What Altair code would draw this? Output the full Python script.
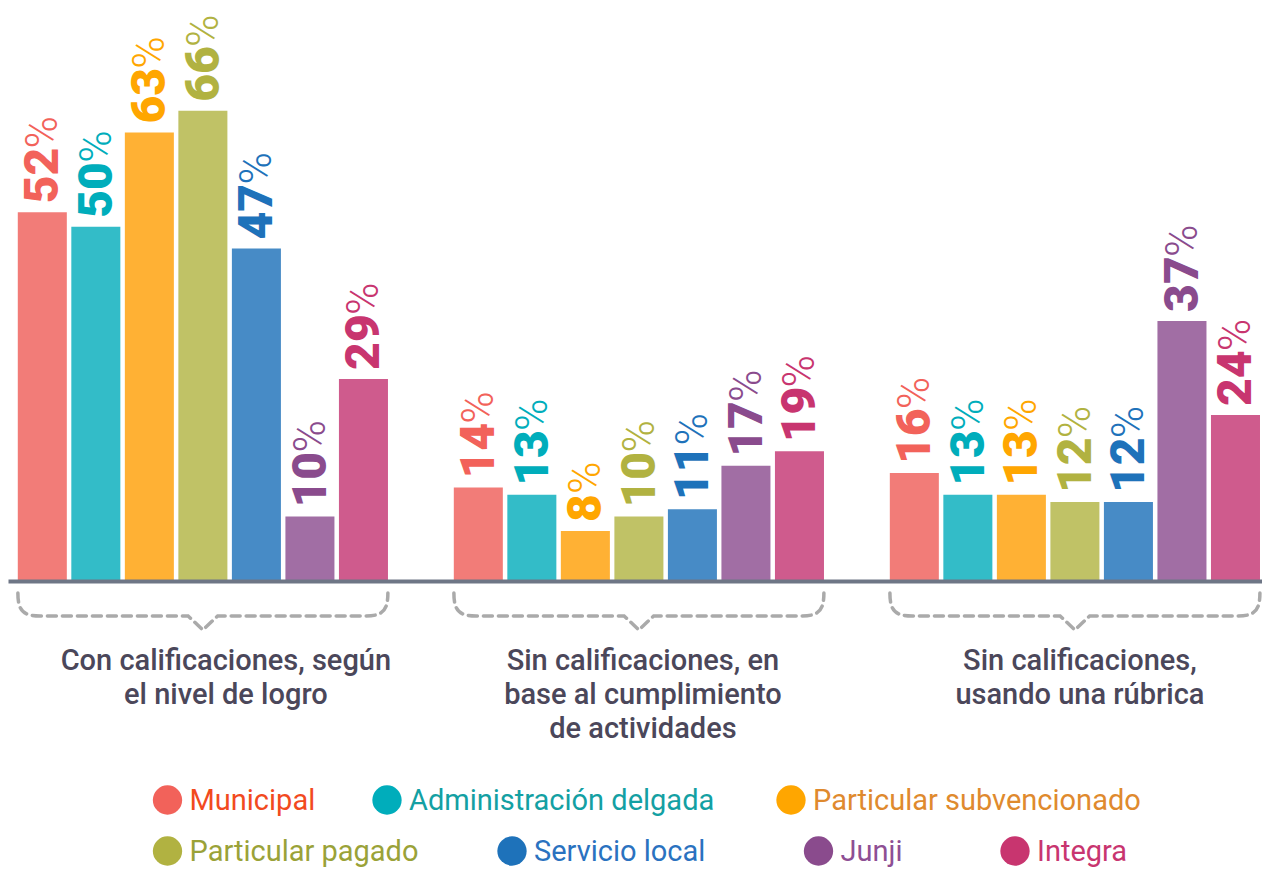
import altair as alt
import pandas as pd

# ---------------- data ----------------
groups = [
    "Con calificaciones, según\nel nivel de logro",
    "Sin calificaciones, en\nbase al cumplimiento\nde actividades",
    "Sin calificaciones,\nusando una rúbrica",
]
series = [
    "Municipal",
    "Administración delgada",
    "Particular subvencionado",
    "Particular pagado",
    "Servicio local",
    "Junji",
    "Integra",
]
values_con_calificaciones = [52, 50, 63, 66, 47, 10, 29]
values_sin_cal_actividades = [14, 13, 8, 10, 11, 17, 19]
values_sin_cal_rubrica = [16, 13, 13, 12, 12, 37, 24]

# ---------------- styles ----------------
bar_colors = ["#f27c78", "#33bcc8", "#ffb134", "#c0c266", "#478bc6", "#a16ea4", "#cf5b8d"]
label_colors = ["#f2625a", "#00adbb", "#ffa600", "#b1b241", "#1e72ba", "#8a4b8d", "#c8356f"]
legend_text_colors = ["#f24a1e", "#13a0a3", "#df8a2e", "#9aa238", "#2a72c0", "#8e4f94", "#c8356f"]

rows = []
for g, vals in zip(groups, [values_con_calificaciones, values_sin_cal_actividades, values_sin_cal_rubrica]):
    for s, v in zip(series, vals):
        rows.append({"group": g, "series": s, "value": v})
df = pd.DataFrame(rows)
gdf = pd.DataFrame({"group": groups})
ldf = pd.DataFrame({"series": series})

W, H = 1254, 573
BOTTOM = 291

x_enc = alt.X(
    "group:N", sort=groups,
    scale=alt.Scale(paddingInner=0.151, paddingOuter=0.01353, align=0.83),
    axis=alt.Axis(title=None, labels=False, ticks=False, grid=False, domain=True,
                  domainColor="#6e7686", domainWidth=4, zindex=1),
)
xo_enc = alt.XOffset("series:N", sort=series, scale=alt.Scale(paddingInner=0.084, paddingOuter=0))
y_enc = alt.Y("value:Q", scale=alt.Scale(domain=[1.1, 80.2], zero=False, nice=False), axis=None)

base = alt.Chart(df)

bars = base.mark_bar(clip=True).encode(
    x=x_enc, xOffset=xo_enc, y=y_enc,
    color=alt.Color("series:N", sort=series, scale=alt.Scale(domain=series, range=bar_colors), legend=None),
)

lab_color = alt.Color("series:N", sort=series, scale=alt.Scale(domain=series, range=label_colors), legend=None)

NUM_FS = 48
numbers = base.mark_text(
    angle=270, align="left", baseline="middle", dx=9, dy=2,
    font="Roboto", fontWeight=900, fontSize=NUM_FS,
).encode(x=x_enc, xOffset=xo_enc, y=y_enc, text="value:Q", color=lab_color)

DIGIT_W = 0.5615 * NUM_FS
pct2 = base.transform_filter("datum.value >= 10").mark_text(
    angle=270, align="left", baseline="middle", dx=9 + 2 * DIGIT_W + 1, dy=2,
    font="Roboto", fontWeight=300, fontSize=44, text="%",
).encode(x=x_enc, xOffset=xo_enc, y=y_enc, color=lab_color)

pct1 = base.transform_filter("datum.value < 10").mark_text(
    angle=270, align="left", baseline="middle", dx=9 + DIGIT_W + 1, dy=2,
    font="Roboto", fontWeight=300, fontSize=44, text="%",
).encode(x=x_enc, xOffset=xo_enc, y=y_enc, color=lab_color)

brace_path = (
    "M -1 -0.092 C -1 0.005 -0.97 0.032 -0.88 0.032 L -0.08 0.032 L 0 0.108 "
    "L 0.08 0.032 L 0.88 0.032 C 0.97 0.032 1 0.005 1 -0.092"
)
braces = alt.Chart(gdf).mark_point(
    shape=brace_path, size=370 * 370, filled=False, fill=None, stroke="#aaaaaa",
    strokeWidth=3.5, strokeDash=[9, 6], strokeCap="round", opacity=1,
).encode(x=x_enc, y=alt.value(602))

group_labels = []
for g, ddx in zip(groups, [23, 4, 5]):
    group_labels.append(
        alt.Chart(gdf).transform_filter(alt.datum.group == g).mark_text(
            lineBreak="\n", align="center", baseline="top", dx=ddx,
            font="Roboto", fontWeight=500, fontSize=29, lineHeight=34, color="#4b475a",
        ).encode(x=x_enc, y=alt.value(639), text="group:N")
    )

legend_pos = [(159.5, 792), (379, 792), (783, 792), (159.5, 843), (504, 843), (810.5, 843), (1007, 843)]
legend_layers = []
for s, (px, py), cc, tc in zip(series, legend_pos, label_colors, legend_text_colors):
    item = alt.Chart(ldf).transform_filter(alt.datum.series == s)
    legend_layers.append(item.mark_circle(size=860, opacity=1, color=cc).encode(x=alt.value(px), y=alt.value(py)))
    legend_layers.append(
        item.mark_text(align="left", baseline="middle", dx=0, dy=1, font="Roboto", fontWeight=400,
                       fontSize=29, color=tc).encode(x=alt.value(px + 22), y=alt.value(py), text="series:N")
    )

chart = alt.layer(bars, numbers, pct2, pct1, braces, *group_labels, *legend_layers).resolve_scale(
    color="independent"
).properties(
    width=W, height=H,
    padding={"left": 0, "top": 0, "right": 0, "bottom": BOTTOM},
    autosize=alt.AutoSizeParams(type="none"),
).configure_view(stroke=None)

chart.save("out.html", embed_options={"renderer": "svg", "actions": False})
